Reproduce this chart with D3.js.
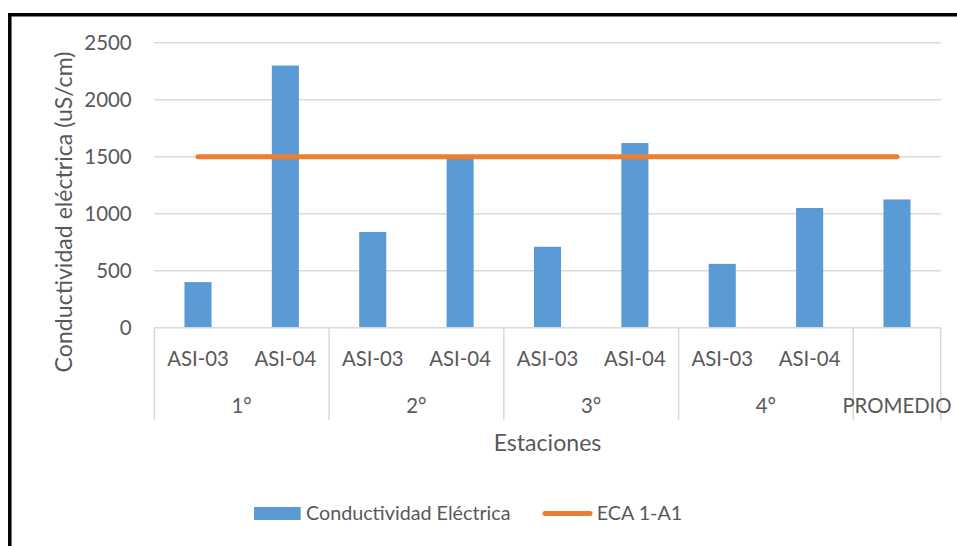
<!DOCTYPE html>
<html>
<head>
<meta charset="utf-8">
<script src="https://cdn.jsdelivr.net/npm/d3@7"></script>
<style>
  html, body { margin: 0; padding: 0; background: #fff; }
  svg { display: block; }
  text { font-family: Lato, "Open Sans", sans-serif; fill: #595959; }
</style>
</head>
<body>
<svg id="chart" width="957" height="546"></svg>
<script>
// Sampling stations and campaigns
const stations = ["ASI-03", "ASI-04", "ASI-03", "ASI-04", "ASI-03", "ASI-04", "ASI-03", "ASI-04", ""];
const campaigns = ["1°", "2°", "3°", "4°", "PROMEDIO"];
const campaignSpan = [2, 2, 2, 2, 1];
// Electrical conductivity (uS/cm) and the ECA 1-A1 standard
const conductivity = [400, 2300, 840, 1490, 710, 1620, 560, 1050, 1125];
const eca = [1500, 1500, 1500, 1500, 1500, 1500, 1500, 1500, 1500];
const yTicks = [0, 500, 1000, 1500, 2000, 2500];

const svg = d3.select("#chart");
const W = 957, H = 546;
const plot = { left: 154.3, right: 940.7, top: 42.7, bottom: 327.7 };

// Font-size helper: size a label so its width matches a target
const probe = svg.append("text").attr("font-size", 100).attr("opacity", 0);
function fit(str, width) {
  probe.text(str);
  return 100 * width / probe.node().getComputedTextLength();
}
const fsTick = fit("2500", 47.4);
const fsCat = fit("ASI-03", 61.7);
const fsLegend = fit("Conductividad Eléctrica", 204.7);
const fsTitle = fit("Conductividad eléctrica (uS/cm)", 321);
probe.remove();

const x = d3.scaleBand()
  .domain(d3.range(conductivity.length))
  .range([plot.left, plot.right])
  .paddingInner(0.69)
  .paddingOuter(0.345);
const y = d3.scaleLinear().domain([0, 2500]).range([plot.bottom, plot.top]);

const grid = "#d9d9d9";

// Frame lines
svg.append("line").attr("x1", 8).attr("x2", W).attr("y1", 14.8).attr("y2", 14.8)
  .attr("stroke", "#000").attr("stroke-width", 3.5);
svg.append("line").attr("x1", 9.8).attr("x2", 9.8).attr("y1", 13).attr("y2", H)
  .attr("stroke", "#000").attr("stroke-width", 3.5);

// Horizontal gridlines
svg.append("g").selectAll("line").data(yTicks.filter(d => d > 0)).join("line")
  .attr("x1", plot.left).attr("x2", plot.right)
  .attr("y1", d => y(d)).attr("y2", d => y(d))
  .attr("stroke", grid).attr("stroke-width", 1.5);

// Y axis tick labels
const yAxis = svg.append("g").attr("transform", `translate(${plot.left},0)`)
  .call(d3.axisLeft(y).tickValues(yTicks).tickFormat(d3.format("d")).tickSize(0).tickPadding(22.6));
yAxis.select(".domain").remove();
yAxis.selectAll("text").attr("font-size", fsTick).attr("fill", "#595959")
  .attr("font-family", "Lato, 'Open Sans', sans-serif");

// Bars
svg.append("g").selectAll("rect").data(conductivity).join("rect")
  .attr("x", (d, i) => x(i))
  .attr("width", x.bandwidth())
  .attr("y", d => y(d))
  .attr("height", d => y(0) - y(d))
  .attr("fill", "#5b9bd5");

// Category axis baseline and group separators
const step = x.step();
svg.append("line").attr("x1", plot.left).attr("x2", plot.right)
  .attr("y1", plot.bottom).attr("y2", plot.bottom)
  .attr("stroke", grid).attr("stroke-width", 1.5);
const bounds = [0];
campaignSpan.forEach(s => bounds.push(bounds[bounds.length - 1] + s));
svg.append("g").selectAll("line").data(bounds).join("line")
  .attr("x1", d => plot.left + d * step).attr("x2", d => plot.left + d * step)
  .attr("y1", plot.bottom).attr("y2", 420)
  .attr("stroke", grid).attr("stroke-width", 1.5);

// Station labels
svg.append("g").selectAll("text").data(stations).join("text")
  .attr("x", (d, i) => x(i) + x.bandwidth() / 2)
  .attr("y", 359)
  .attr("dy", "0.35em")
  .attr("text-anchor", "middle")
  .attr("font-size", fsCat)
  .text(d => d);

// Campaign labels
svg.append("g").selectAll("text").data(campaigns).join("text")
  .attr("x", (d, i) => plot.left + (bounds[i] + campaignSpan[i] / 2) * step)
  .attr("y", 406)
  .attr("dy", "0.35em")
  .attr("text-anchor", "middle")
  .attr("font-size", fsCat)
  .text(d => d);

// ECA standard line
const line = d3.line()
  .x((d, i) => x(i) + x.bandwidth() / 2)
  .y(d => y(d));
svg.append("path").datum(eca)
  .attr("d", line)
  .attr("fill", "none")
  .attr("stroke", "#ed7d31")
  .attr("stroke-width", 5)
  .attr("stroke-linecap", "round");

// Axis titles
svg.append("text")
  .attr("x", (plot.left + plot.right) / 2)
  .attr("y", 443)
  .attr("dy", "0.35em")
  .attr("text-anchor", "middle")
  .attr("font-size", fsTitle)
  .text("Estaciones");
svg.append("text")
  .attr("transform", "translate(64,212) rotate(-90)")
  .attr("dy", "0.35em")
  .attr("text-anchor", "middle")
  .attr("font-size", fsTitle)
  .text("Conductividad eléctrica (uS/cm)");

// Legend
const legend = svg.append("g");
legend.append("rect").attr("x", 254).attr("y", 507).attr("width", 46.7).attr("height", 13)
  .attr("fill", "#5b9bd5");
legend.append("text").attr("x", 306).attr("y", 513.5).attr("dy", "0.35em")
  .attr("font-size", fsLegend).text("Conductividad Eléctrica");
legend.append("line").attr("x1", 545).attr("x2", 590).attr("y1", 513.5).attr("y2", 513.5)
  .attr("stroke", "#ed7d31").attr("stroke-width", 5).attr("stroke-linecap", "round");
legend.append("text").attr("x", 596.7).attr("y", 513.5).attr("dy", "0.35em")
  .attr("font-size", fsLegend).text("ECA 1-A1");
</script>
</body>
</html>
